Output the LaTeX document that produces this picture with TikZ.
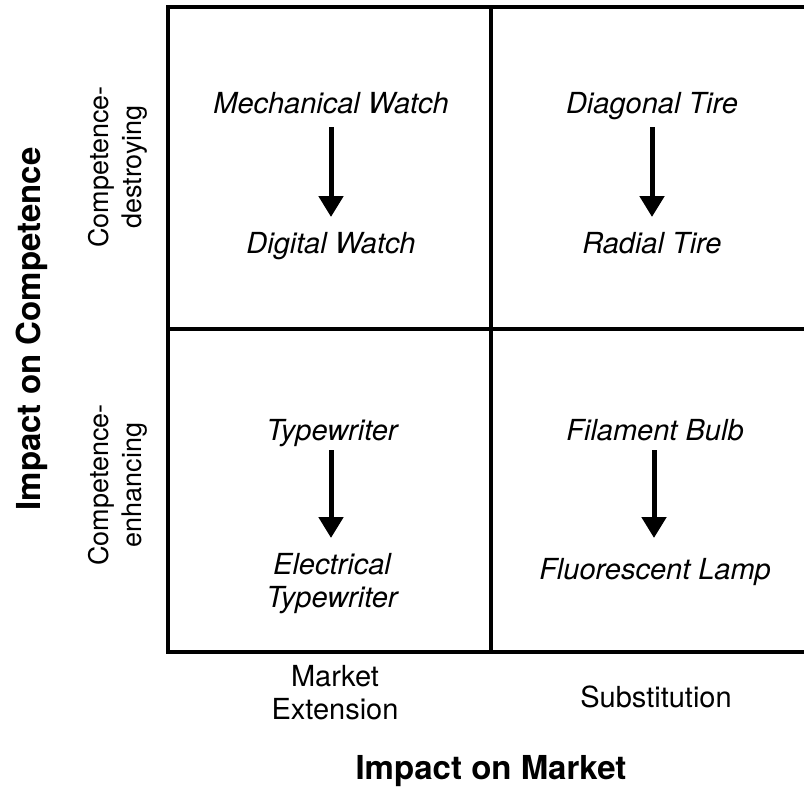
\documentclass[tikz,border=0pt]{standalone}
\usepackage{fontspec}
\setmainfont{TeX Gyre Heros}
\usetikzlibrary{arrows.meta}
\tikzset{
  gridline/.style={line width=4pt, line cap=rect},
  transition/.style={line width=5pt, -{Triangle[width=24pt,length=21pt]}},
  tech/.style={font=\fontsize{29}{33}\selectfont\itshape, anchor=base, align=center, inner sep=0pt},
  axislbl/.style={font=\fontsize{29}{33}\selectfont, align=center, inner sep=0pt},
  sidelbl/.style={font=\fontsize{27}{33}\selectfont, align=center, inner sep=0pt, rotate=90},
  axistitle/.style={font=\fontsize{33}{38}\selectfont\bfseries, inner sep=0pt}
}
\begin{document}
\begin{tikzpicture}[x=1pt,y=-1pt]
\useasboundingbox (0,0) rectangle (804,787);
% quadrant grid
\draw[gridline] (804,7) -- (168,7) -- (168,652) -- (804,652);
\draw[line width=4.5pt] (168,329) -- (804,329);
\draw[line width=4.5pt] (491,7) -- (491,652);
% technologies
\node[tech] (mw) at (331,113) {Mechanical Watch};
\node[tech] (dw) at (331,253) {Digital Watch};
\node[tech] (dt) at (652,113) {Diagonal Tire};
\node[tech] (rt) at (652,253) {Radial Tire};
\node[tech] (tw) at (332,440) {Typewriter};
\node[tech, anchor=north] (et) at (332,553) {Electrical\\Typewriter};
\node[tech] (fb) at (655,440) {Filament Bulb};
\node[tech] (fl) at (655,579) {Fluorescent Lamp};
% transitions
\coordinate (a1s) at (331,127); \coordinate (a1e) at (331,217);
\coordinate (a2s) at (652,127); \coordinate (a2e) at (652,217);
\coordinate (a3s) at (331,450); \coordinate (a3e) at (331,538);
\coordinate (a4s) at (654,450); \coordinate (a4e) at (654,538);
\draw[transition] (a1s) -- (a1e);
\draw[transition] (a2s) -- (a2e);
\draw[transition] (a3s) -- (a3e);
\draw[transition] (a4s) -- (a4e);
% axis categories
\node[sidelbl] (cd) at (118,167) {Competence-\\destroying};
\node[sidelbl] (ce) at (118,485) {Competence-\\enhancing};
\node[axislbl, anchor=north] (me) at (335,665) {Market\\Extension};
\node[axislbl, anchor=base] (su) at (656,707) {Substitution};
% axis titles
\node[axistitle, rotate=90, anchor=base] (ic) at (40,329) {Impact on Competence};
\node[axistitle, anchor=base] (im) at (491,779) {Impact on Market};
\end{tikzpicture}
\end{document}
